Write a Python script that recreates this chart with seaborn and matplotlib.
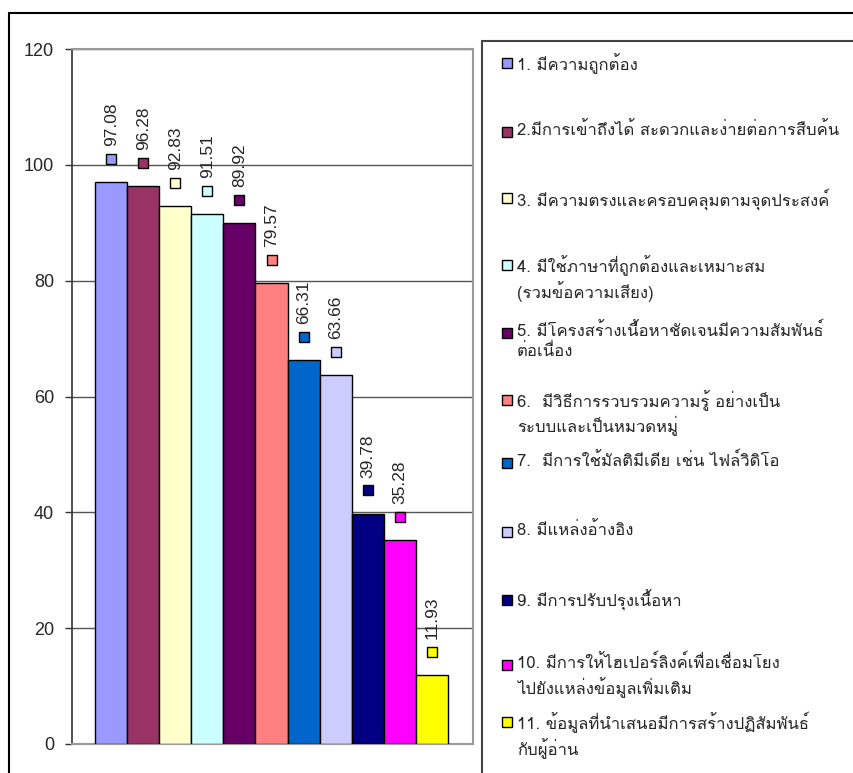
import matplotlib
matplotlib.use("Agg")
import matplotlib.pyplot as plt
import seaborn as sns
import pandas as pd
from matplotlib import font_manager
from fontTools.ttLib import TTFont
from fontTools.pens.boundsPen import BoundsPen

# values
labels = ["1. มีความถูกต้อง",
          "2.มีการเข้าถึงได้ สะดวกและง่ายต่อการสืบค้น",
          "3. มีความตรงและครอบคลุมตามจุดประสงค์",
          "4. มีใช้ภาษาที่ถูกต้องและเหมาะสม\n(รวมข้อความเสียง)",
          "5. มีโครงสร้างเนื้อหาชัดเจนมีความสัมพันธ์\nต่อเนื่อง",
          "6.  มีวิธีการรวบรวมความรู้ อย่างเป็น\nระบบและเป็นหมวดหมู่",
          "7.  มีการใช้มัลติมีเดีย เช่น ไฟล์วิดิโอ",
          "8. มีแหล่งอ้างอิง",
          "9. มีการปรับปรุงเนื้อหา",
          "10. มีการให้ไฮเปอร์ลิงค์เพื่อเชื่อมโยง\nไปยังแหล่งข้อมูลเพิ่มเติม",
          "11. ข้อมูลที่นำเสนอมีการสร้างปฏิสัมพันธ์\nกับผู้อ่าน"]
values = [97.08, 96.28, 92.83, 91.51, 89.92, 79.57, 66.31, 63.66, 39.78, 35.28, 11.93]
colors = ["#9999FF", "#993366", "#FFFFCC", "#CCFFFF", "#660066", "#FF8080",
          "#0066CC", "#CCCCFF", "#000080", "#FF00FF", "#FFFF00"]
legend_y = [63, 132, 198, 265, 333, 400, 463, 532, 600, 665, 722]  # px from top


# matplotlib does no Thai shaping, so use a font whose tone marks
# already sit above the upper vowels (otherwise ที่ loses its mark)
def tone_mark_high(path):
    font = TTFont(path, fontNumber=0, lazy=True)
    cmap = font.getBestCmap()
    if not cmap or 0x0E01 not in cmap or 0x0E48 not in cmap or 0x0E35 not in cmap:
        return False
    gs = font.getGlyphSet()
    b = []
    for cp in (0x0E48, 0x0E35):
        pen = BoundsPen(gs)
        gs[cmap[cp]].draw(pen)
        if pen.bounds is None:
            return False
        b.append(pen.bounds)
    return b[0][1] >= b[1][3] - 0.02 * font["head"].unitsPerEm


thai = None
for f in font_manager.fontManager.ttflist:
    try:
        if tone_mark_high(f.fname):
            thai = f.name
            break
    except Exception:
        pass

sns.set_style("white")
plt.rcParams["font.family"] = ["Liberation Sans", "DejaVu Sans"]
fams = ([thai] if thai else []) + ["Liberation Sans", "DejaVu Sans"]

df = pd.DataFrame({"item": [str(i) for i in range(len(values))], "value": values})

fig = plt.figure(figsize=(8.54, 7.73), dpi=100)
W, H = 854, 773
ax = fig.add_axes([72 / W, 1 - 744 / H, (473 - 72) / W, (744 - 49) / H])
sns.barplot(data=df, x="item", y="value", hue="item", palette=colors, legend=False,
            saturation=1, width=1.0, edgecolor="black", linewidth=1, ax=ax, zorder=3)

for i, v in enumerate(values):
    ax.plot(i, v + 4, marker="s", ms=7.5, mfc=colors[i], mec="black", mew=1, zorder=4)
    ax.text(i, v + 6.2, f"{v:.2f}", rotation=90, ha="center", va="bottom",
            fontsize=12.5, zorder=4)

ax.set_xlim(-1.22, 11.28)
ax.set_ylim(0, 120)
ax.set_yticks(range(0, 121, 20))
ax.set_xticks([])
ax.set_xlabel("")
ax.set_ylabel("")
ax.yaxis.grid(True, color="#555555", linewidth=1, zorder=0)
ax.tick_params(axis="y", left=True, length=5, width=1, color="#333333",
               labelsize=13, pad=8)
for s in ["top", "right", "bottom"]:
    ax.spines[s].set_color("#999999")
    ax.spines[s].set_linewidth(1.5)
ax.spines["left"].set_color("#333333")
ax.spines["left"].set_linewidth(1.2)

# outer chart frame and legend box
fig.add_artist(plt.Line2D([9 / W, 1], [1 - 13 / H, 1 - 13 / H], color="black", lw=1.5))
fig.add_artist(plt.Line2D([9 / W, 9 / W], [0, 1 - 13 / H], color="black", lw=1.5))
fig.add_artist(plt.Line2D([482 / W, 1], [1 - 41 / H, 1 - 41 / H], color="#444444", lw=1.5))
fig.add_artist(plt.Line2D([482 / W, 482 / W], [0, 1 - 41 / H], color="#444444", lw=1.5))

for lab, c, yp in zip(labels, colors, legend_y):
    fig.add_artist(plt.Line2D([507 / W], [1 - yp / H], marker="s", ms=7.5, mfc=c,
                              mec="black", mew=1))
    fig.text(517 / W, 1 - (yp - 10) / H, lab, ha="left", va="top", fontsize=12,
             family=fams, linespacing=1.3)

fig.savefig("out.png", dpi=100)
